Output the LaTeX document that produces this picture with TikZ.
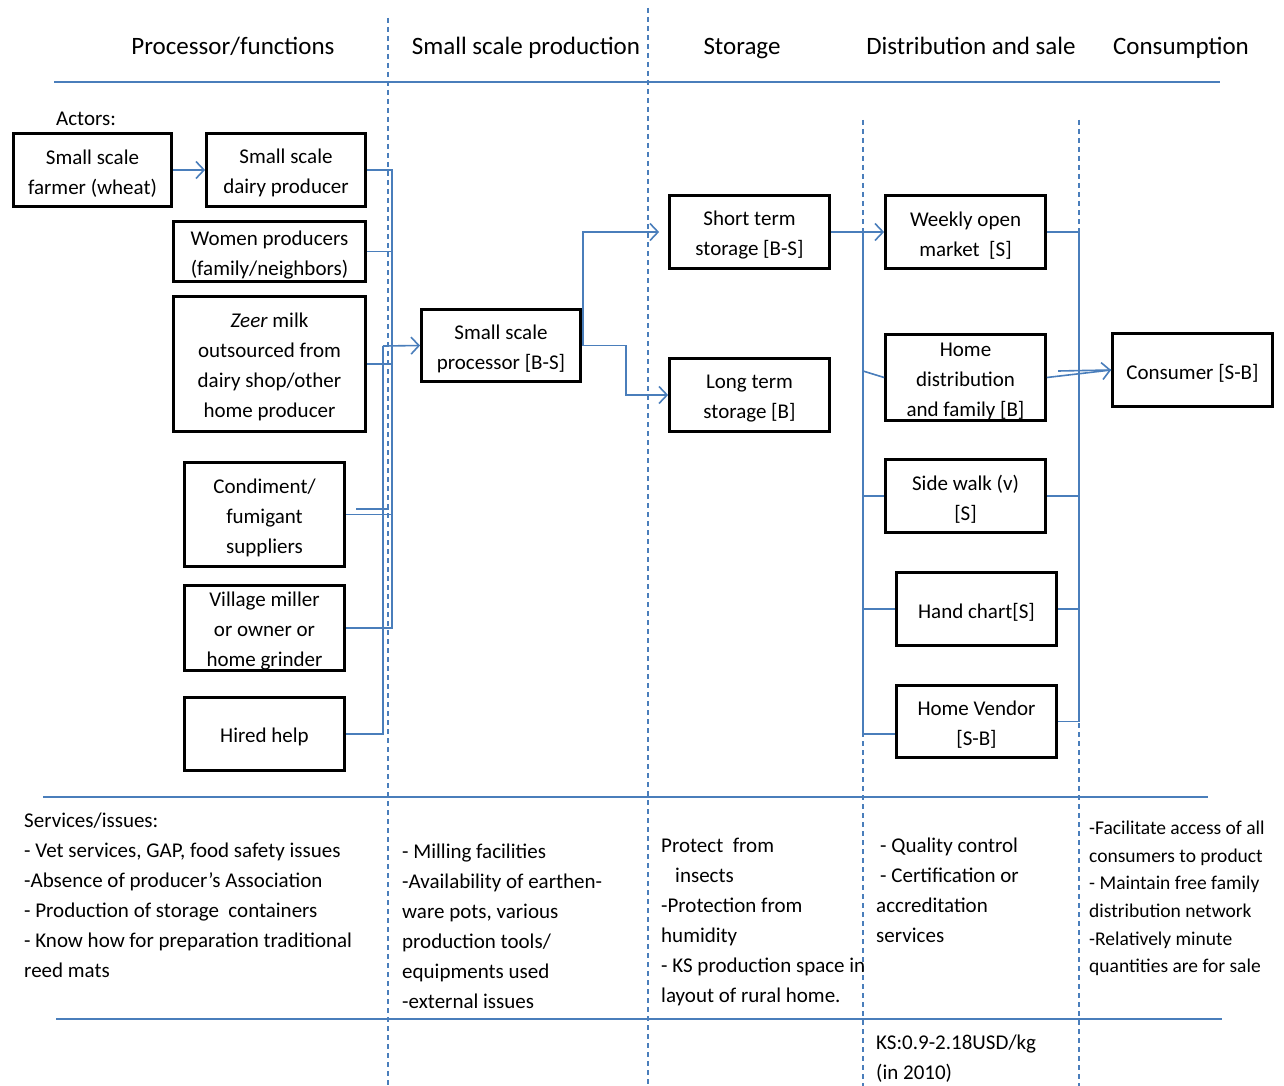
\documentclass[tikz,border=0pt]{standalone}
\usepackage{fontspec}
\setmainfont{Carlito}
\usetikzlibrary{calc,arrows.meta}
\definecolor{lineblue}{RGB}{74,126,187}
\newcommand\bst{\rule{0pt}{21pt}}
\tikzset{
  box/.style={draw=black, line width=2.8pt, align=center, inner sep=0pt,
    font=\fontsize{21}{30}\selectfont},
  conn/.style={draw=lineblue, line width=1.6pt},
  tip/.style={-{Straight Barb[length=8pt,width=17pt,line width=1.6pt]}},
  divider/.style={draw=lineblue, line width=1.1pt, dash pattern=on 5pt off 4pt},
  rule/.style={draw=lineblue, line width=2pt},
  head/.style={font=\fontsize{25}{30}\selectfont, inner sep=0pt, text height=18pt, text depth=6pt},
  btext/.style={font=\fontsize{21}{30}\selectfont, align=left, inner sep=0pt, anchor=north west},
  ctext/.style={font=\fontsize{19.5}{27.6}\selectfont, align=left, inner sep=0pt, anchor=north west}
}
\begin{document}
\begin{tikzpicture}[x=1pt,y=-1pt]
\useasboundingbox[fill=white] (0,0) rectangle (1284,1086);

% dividers
\draw[divider] (388,18) -- (388,1086);
\draw[divider] (648,8) -- (648,1086);
\draw[divider] (863,120) -- (863,1086);
\draw[divider] (1079,120) -- (1079,1086);

% horizontal rules
\draw[rule] (54,82) -- (1220,82);
\draw[rule] (43,797) -- (1208,797);
\draw[rule] (56,1019) -- (1222,1019);

% headers
\node[head] (h1) at (233,49) {Processor/functions};
\node[head] (h2) at (526,49) {Small scale production};
\node[head] (h3) at (742,49) {Storage};
\node[head] (h4) at (971,49) {Distribution and sale};
\node[head] (h5) at (1181,49) {Consumption};

\node[font=\fontsize{21}{30}\selectfont, inner sep=0pt, anchor=west] (actors) at (56,119) {Actors:};

% boxes
\node[box, minimum width=158pt, minimum height=73pt] (farmer) at (92.5,170) {\bst Small scale\\farmer (wheat)};
\node[box, minimum width=159pt, minimum height=73pt] (dairy) at (286,170) {\bst Small scale\\dairy producer};
\node[box, minimum width=192pt, minimum height=60pt] (women) at (269.5,251.5) {\bst Women producers\\(family/neighbors)};
\node[box, minimum width=192pt, minimum height=135pt] (zeer) at (269.5,364) {\bst\textit{Zeer} milk\\outsourced from\\dairy shop/other\\home producer};
\node[box, minimum width=160pt, minimum height=104pt] (cond) at (264.5,514.5) {\bst Condiment/\\fumigant\\suppliers};
\node[box, minimum width=160pt, minimum height=84pt] (miller) at (264.5,628) {\bst Village miller\\or owner or\\home grinder};
\node[box, minimum width=160pt, minimum height=73pt] (hired) at (264.5,734) {\bst Hired help};
\node[box, minimum width=159pt, minimum height=72pt] (proc) at (501,345.5) {\bst Small scale\\processor [B-S]};
\node[box, minimum width=160pt, minimum height=73pt] (short) at (749.5,232) {\bst Short term\\storage [B-S]};
\node[box, minimum width=160pt, minimum height=73pt] (long) at (749.5,395) {\bst Long term\\storage [B]};
\node[box, minimum width=160pt, minimum height=73pt] (weekly) at (965.5,232) {\bst Weekly open\\market~~[S]};
\node[box, minimum width=160pt, minimum height=86pt] (homed) at (965.5,377.5) {\bst Home\\distribution\\and family [B]};
\node[box, minimum width=160pt, minimum height=73pt] (side) at (965.5,496) {\bst Side walk (v)\\{}[S]};
\node[box, minimum width=160pt, minimum height=73pt] (hand) at (976.5,609) {\bst Hand chart[S]};
\node[box, minimum width=160pt, minimum height=72pt] (vendor) at (976.5,721.5) {\bst Home Vendor\\{}[S-B]};
\node[box, minimum width=160pt, minimum height=73pt] (cons) at (1192.5,370) {\bst Consumer [S-B]};

% left connectors
\coordinate (jA) at (392,346);
\coordinate (jB) at (383,346);
\draw[conn,tip] (farmer.east) -- (dairy.west);
\draw[conn] (dairy.east) -| (jA);
\draw[conn] (women.east) -| (jA);
\draw[conn] (zeer.east) -| (jA);
\draw[conn] (cond.east) -| (jA);
\draw[conn] (miller.east) -| (jA);
\draw[conn] (hired.east) -| (jB);
\draw[conn, line width=2.4pt] (356,509) -- (389,509);
\draw[conn,tip] (jB) -- (proc.west);

% processor to storage
\coordinate (pk) at (626,345.5);
\draw[conn,tip,shorten >=9pt] (proc.east) -- ++(1,0) |- (short.west);
\draw[conn,tip] (proc.east) -- (pk) |- (long.west);
\draw[conn,tip] (short.east) -- (weekly.west);

% distribution left bus
\coordinate (lbT) at (863,232);
\coordinate (lbB) at (863,734);
\coordinate (lbH) at (863,371);
\draw[conn] (lbT) -- (lbB);
\draw[conn] (lbH) -- (homed.west);
\draw[conn] (side.west) -- (side.west -| lbT);
\draw[conn] (hand.west) -- (hand.west -| lbT);
\draw[conn] ($(vendor.west)+(0,12.5)$) -- (lbB);

% distribution right bus
\coordinate (rbB) at (1079,721.5);
\coordinate (rbH) at (1058,371);
\draw[conn] (weekly.east) -| (rbB);
\draw[conn] (vendor.east) -- (rbB);
\draw[conn] (side.east) -- (side.east -| rbB);
\draw[conn] (hand.east) -- (hand.east -| rbB);
\draw[conn,tip] (homed.east) -- (cons.west);
\draw[conn] (rbH) -- (cons.west);

% bottom texts
\node[btext] (s1) at (24,813) {Services/issues:\\- Vet services, GAP, food safety issues\\-Absence of producer’s Association\\- Production of storage~ containers\\- Know how for preparation traditional\\reed mats};
\node[btext] (s2) at (402,844) {- Milling facilities\\-Availability of earthen-\\ware pots, various\\production tools/\\equipments used\\-external issues};
\node[btext] (s3) at (661,838) {Protect~ from\\\hspace*{14pt}insects\\-Protection from\\humidity\\- KS production space in\\layout of rural home.};
\node[btext] (s4) at (876,838) {\hspace*{4pt}- Quality control\\\hspace*{4pt}- Certification or\\accreditation\\services};
\node[ctext] (s5) at (1089,821) {-Facilitate access of all\\consumers to product\\- Maintain free family\\distribution network\\-Relatively minute\\quantities are for sale};
\node[btext] (ks) at (876,1035) {KS:0.9-2.18USD/kg\\(in 2010)};
\end{tikzpicture}
\end{document}
